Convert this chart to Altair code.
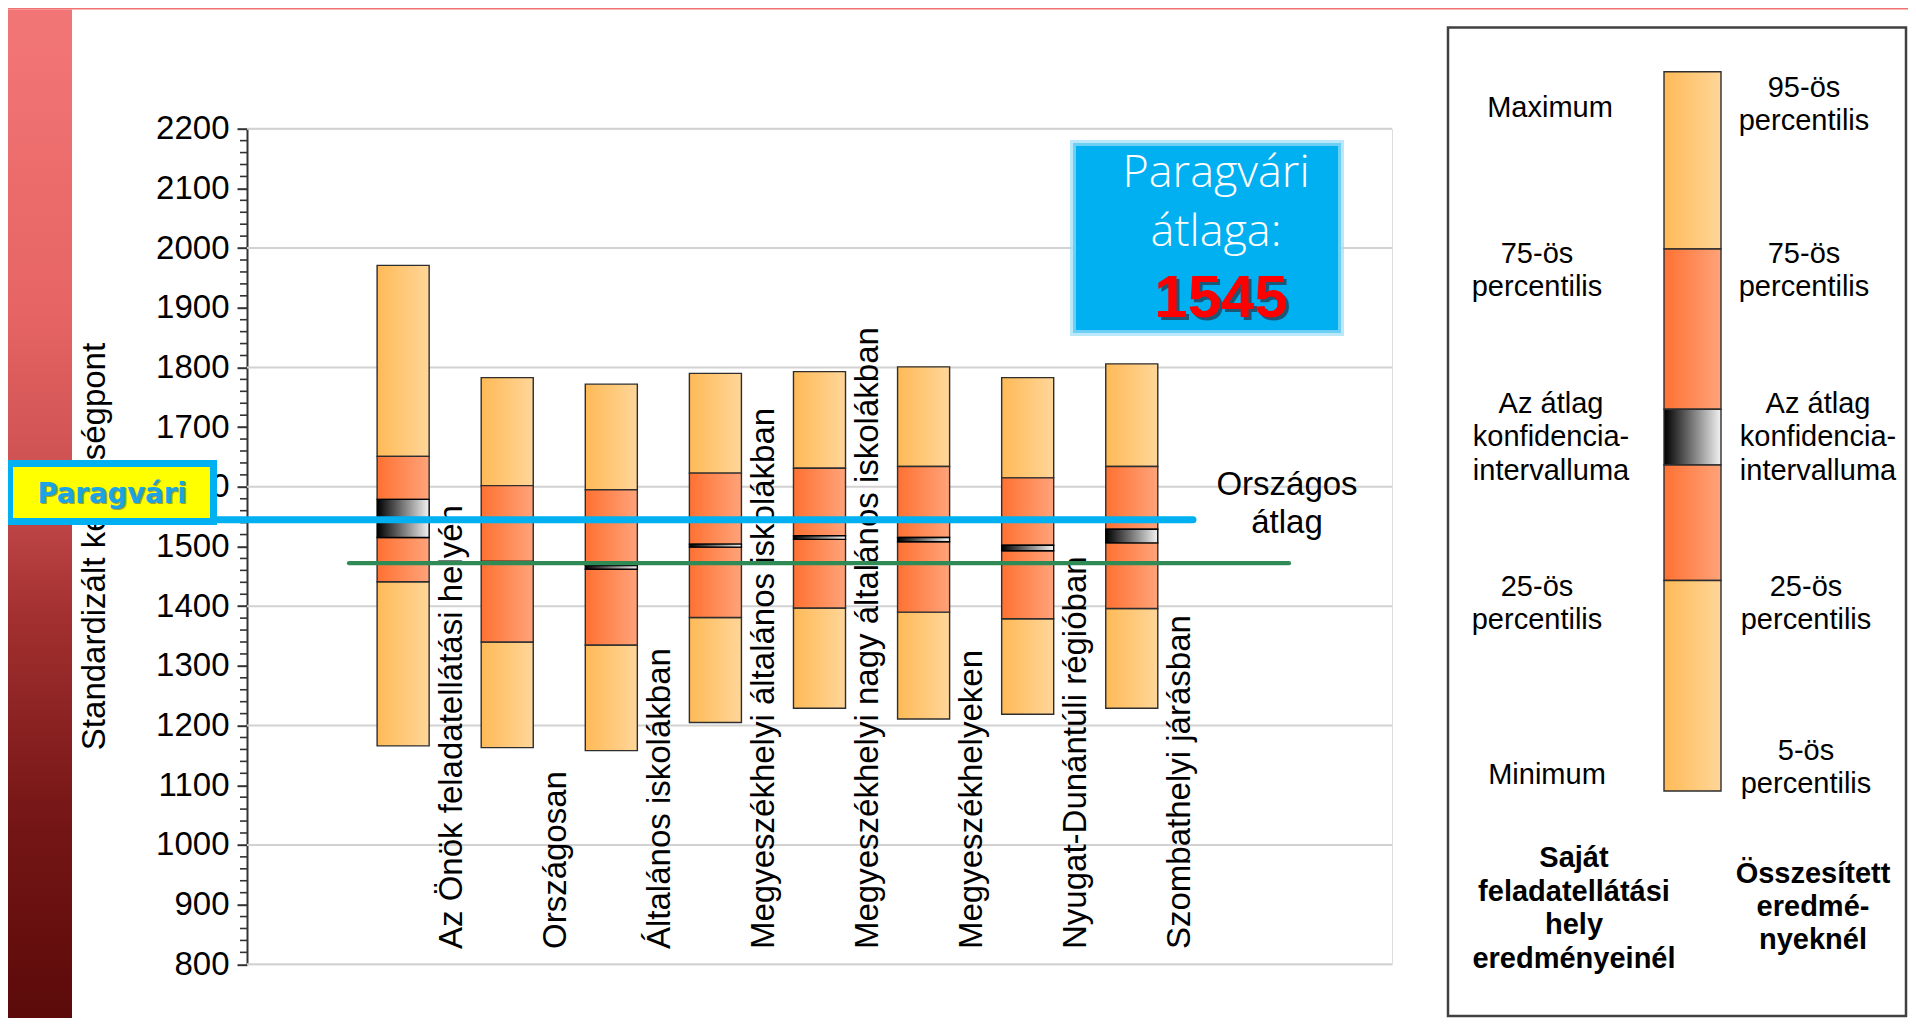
import altair as alt
import pandas as pd

# ---------------- data ----------------
categories = [
    "Az Önök feladatellátási helyén",
    "Országosan",
    "Általános iskolákban",
    "Megyeszékhelyi általános iskolákban",
    "Megyeszékhelyi nagy általános iskolákban",
    "Megyeszékhelyeken",
    "Nyugat-Dunántúli régióban",
    "Szombathelyi járásban",
]
low_values = [1166, 1163, 1158, 1205, 1229, 1211, 1219, 1229]       # minimum / 5th percentile
p25_values = [1441, 1340, 1335, 1381, 1397, 1390, 1379, 1396]
ci_low_values = [1515, 1470, 1462, 1499, 1512, 1508, 1493, 1506]
ci_high_values = [1579, 1475, 1468, 1504, 1518, 1515, 1502, 1529]
p75_values = [1651, 1602, 1595, 1623, 1631, 1634, 1615, 1634]
high_values = [1971, 1783, 1772, 1790, 1793, 1801, 1783, 1806]      # maximum / 95th percentile
paragvari_avg = 1545
national_avg = 1472
y_tick_values = list(range(800, 2201, 100))
grid_values = list(range(800, 2201, 200))
minor_tick_values = [v for v in range(800, 2201, 20) if v % 100 != 0]

# ---------------- layout helpers ----------------
W, H = 1145, 835.6
ORX, ORY = 247.0, 128.7          # page position of plot origin


def px(v):
    return v - ORX


def py(v):
    return v - ORY


dummy = pd.DataFrame({"k": [0]})
FONT = "Liberation Sans"

xscale = alt.Scale(domain=[0, 11], nice=False, zero=False)
yscale = alt.Scale(domain=[800, 2200], nice=False, zero=False)
Y_AXIS = alt.Axis(
    values=y_tick_values, format="d", title=None, grid=False,
    labelFont=FONT, labelFontSize=33, labelColor="black",
    labelPadding=8, tickSize=10, tickWidth=2, tickColor="#333333",
    domainColor="#333333", domainWidth=2)


def grad(c0, c1, vertical=False, mid=None):
    stops = [alt.GradientStop(color=c0, offset=0)]
    if mid:
        for off, col in mid:
            stops.append(alt.GradientStop(color=col, offset=off))
    stops.append(alt.GradientStop(color=c1, offset=1))
    if vertical:
        return alt.LinearGradient(gradient="linear", stops=stops, x1=0, x2=0, y1=0, y2=1)
    return alt.LinearGradient(gradient="linear", stops=stops, x1=0, x2=1, y1=0, y2=0)


LIGHT = grad("#FFBA57", "#FFD699")
DARK = grad("#FF7132", "#FFA37A")
CI = grad("#000000", "#F2F2F2")


def rect(x1, y1, x2, y2, **kw):
    return alt.Chart(dummy).mark_rect(**kw).encode(
        x=alt.value(px(x1)), x2=alt.value(px(x2)),
        y=alt.value(py(y1)), y2=alt.value(py(y2)))


def text(s, xp, yp, size=29, weight="normal", color="black", font=FONT,
         align="center", baseline="alphabetic", line_height=None, **kw):
    props = dict(text=s, font=font, fontSize=size, fontWeight=weight, color=color,
                 align=align, baseline=baseline, **kw)
    if "\n" in s:
        props["lineBreak"] = "\n"
        props["lineHeight"] = line_height or size * 1.15
    return alt.Chart(dummy).mark_text(**props).encode(
        x=alt.value(px(xp)), y=alt.value(py(yp)))


# ---------------- bar segments ----------------
rows = []
for i, c in enumerate(categories):
    pos = i + 1
    rows += [
        dict(pos=pos, seg="light", lo=low_values[i], hi=p25_values[i]),
        dict(pos=pos, seg="dark", lo=p25_values[i], hi=ci_low_values[i]),
        dict(pos=pos, seg="ci", lo=ci_low_values[i], hi=ci_high_values[i]),
        dict(pos=pos, seg="dark", lo=ci_high_values[i], hi=p75_values[i]),
        dict(pos=pos, seg="light", lo=p75_values[i], hi=high_values[i]),
    ]
seg_df = pd.DataFrame(rows)
cat_df = pd.DataFrame({"pos": list(range(1, len(categories) + 1)), "name": categories})


def seg_layer(seg, fill, stroke, sw):
    return alt.Chart(seg_df).transform_filter(alt.datum.seg == seg).transform_calculate(
        xl="datum.pos + 0.25", xr="datum.pos + 0.75"
    ).mark_rect(fill=fill, stroke=stroke, strokeWidth=sw).encode(
        x=alt.X("xl:Q", scale=xscale, axis=None),
        x2="xr:Q",
        y=alt.Y("lo:Q", scale=yscale, axis=Y_AXIS),
        y2="hi:Q",
    )


# background decoration
left_strip = rect(0 + 8, 9.5, 72, 1018, fill=grad(
    "#F37676", "#5C0A0A", vertical=True,
    mid=[(0.3, "#E66464"), (0.45, "#CF5252"), (0.6, "#A33030"), (0.8, "#761616")]))
top_strip = rect(8, 8, 1908, 9.5, fill="#F27272")

# gridlines + y axis
grid = alt.Chart(pd.DataFrame({"g": grid_values})).mark_rule(
    color="#D2D2D2", strokeWidth=2).encode(
    y=alt.Y("g:Q", scale=yscale, axis=Y_AXIS),
    x=alt.value(0), x2=alt.value(W))

minor = alt.Chart(pd.DataFrame({"m": minor_tick_values})).mark_rule(
    color="#333333", strokeWidth=1.6).encode(
    y=alt.Y("m:Q", scale=yscale, axis=Y_AXIS), x=alt.value(-7), x2=alt.value(0))

axis_title = text("Standardizált képességpont", 95, 546.5, size=33, angle=270,
                  baseline="middle")

light = seg_layer("light", LIGHT, "#2E2E2E", 1.4)
dark = seg_layer("dark", DARK, "#2E2E2E", 1.4)
ci = seg_layer("ci", CI, "#000000", 1.4)

cat_labels = alt.Chart(cat_df).transform_calculate(lx="datum.pos + 0.965").mark_text(
    font=FONT, fontSize=33, angle=270, align="left", baseline="middle", color="black"
).encode(x=alt.X("lx:Q", scale=xscale, axis=None), y=alt.value(py(949)), text="name:N")

green = alt.Chart(pd.DataFrame({"v": [national_avg]})).mark_rule(
    color="#2F8A55", strokeWidth=4.2, strokeCap="round").encode(
    y=alt.Y("v:Q", scale=yscale, axis=Y_AXIS), x=alt.value(px(349)), x2=alt.value(px(1289)))

blue = alt.Chart(pd.DataFrame({"v": [paragvari_avg]})).mark_rule(
    color="#00B0F0", strokeWidth=7, strokeCap="round").encode(
    y=alt.Y("v:Q", scale=yscale, axis=Y_AXIS), x=alt.value(px(12)), x2=alt.value(px(1193)))

orsz = text("Országos\nátlag", 1287, 495, size=33, line_height=38)

# Paragvári yellow label box
p_box = rect(9.5, 463.5, 213.5, 521.5, fill="#FFFF00", stroke="#00B0F0", strokeWidth=7)
p_shadow = text("Paragvári", 113.5, 504, size=27.5, weight="bold", font="DejaVu Sans",
                color="#555555", opacity=0.55)
p_text = text("Paragvári", 112, 502.5, size=27.5, weight="bold", font="DejaVu Sans",
              color="#1BA3E3")

# blue annotation box
b_box = rect(1073, 143, 1341, 333, fill="#00B0F0", stroke="#9CDDF6", strokeWidth=6,
             strokeOpacity=0.7)
b_t1 = text("Paragvári", 1216, 187, size=45, font="Open Sans", weight=300, color="white")
b_t2 = text("átlaga:", 1216, 246, size=45, font="Open Sans", weight=300, color="white")
b_sh = text(str(paragvari_avg), 1224, 319.5, size=60, weight="bold", color="#3A0000",
            opacity=0.5)
b_t3 = text(str(paragvari_avg), 1221, 317, size=60, weight="bold", color="#FF0000")

# legend panel
lg_box = rect(1448, 27.5, 1906, 1016, fill="white", stroke="#404040", strokeWidth=2.5)
lg_bars = [
    rect(1664, 71.7, 1721, 249, fill=LIGHT, stroke="#2E2E2E", strokeWidth=1.4),
    rect(1664, 249, 1721, 409.3, fill=DARK, stroke="#2E2E2E", strokeWidth=1.4),
    rect(1664, 409.3, 1721, 465, fill=CI, stroke="#2E2E2E", strokeWidth=1.4),
    rect(1664, 465, 1721, 580.5, fill=DARK, stroke="#2E2E2E", strokeWidth=1.4),
    rect(1664, 580.5, 1721, 791, fill=LIGHT, stroke="#2E2E2E", strokeWidth=1.4),
]
LH = 33.4
lg_texts = [
    text("Maximum", 1550, 116.7),
    text("75-ös\npercentilis", 1537, 263, line_height=LH),
    text("Az átlag\nkonfidencia-\nintervalluma", 1551, 413, line_height=LH),
    text("25-ös\npercentilis", 1537, 595.6, line_height=LH),
    text("Minimum", 1547, 783.6),
    text("Saját\nfeladatellátási\nhely\neredményeinél", 1574, 867.4, weight="bold",
         line_height=LH),
    text("95-ös\npercentilis", 1804, 96.7, line_height=LH),
    text("75-ös\npercentilis", 1804, 263, line_height=LH),
    text("Az átlag\nkonfidencia-\nintervalluma", 1818, 413, line_height=LH),
    text("25-ös\npercentilis", 1806, 595.6, line_height=LH),
    text("5-ös\npercentilis", 1806, 760, line_height=LH),
    text("Összesített\neredmé-\nnyeknél", 1813, 882.6, weight="bold", line_height=LH),
]

chart = alt.layer(
    left_strip, top_strip, grid, minor, axis_title,
    light, dark, ci, cat_labels, green, blue, orsz,
    p_box, p_shadow, p_text,
    b_box, b_t1, b_t2, b_sh, b_t3,
    lg_box, *lg_bars, *lg_texts,
).properties(
    width=W, height=H,
    padding={"left": 239, "top": 120.7, "right": 516, "bottom": 53.7},
    autosize=alt.AutoSizeParams(type="none"),
).configure_view(stroke=None).configure(background="white")

chart.save("out.html", embed_options={"renderer": "svg", "actions": False})
